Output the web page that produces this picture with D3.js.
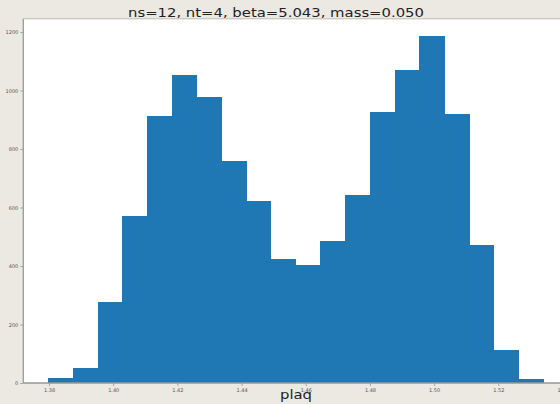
<!DOCTYPE html>
<html>
<head>
<meta charset="utf-8">
<script src="https://cdn.jsdelivr.net/npm/d3@7"></script>
<style>
  html, body { margin: 0; padding: 0; background: #ece9e3; }
  svg { display: block; }
</style>
</head>
<body>
<div id="chart"></div>
<script>
// histogram of plaq, 20 bins
var binLo = 1.3797;
var binHi = 1.5340;
var counts = [17, 52, 277, 571, 913, 1053, 978, 759, 622, 424, 403, 485, 643, 926, 1070, 1186, 920, 472, 113, 14];
var xTicks = [1.38, 1.40, 1.42, 1.44, 1.46, 1.48, 1.50, 1.52, 1.54];
var yTicks = [0, 200, 400, 600, 800, 1000, 1200];
var title = "ns=12, nt=4, beta=5.043, mass=0.050";
var xLabel = "plaq";

var W = 560, H = 404;
var m = { left: 23.3, right: 568, top: 18.8, bottom: 383 };

var nb = counts.length;
var step = (binHi - binLo) / nb;
var bins = counts.map(function(c, i) {
    return { x0: binLo + i * step, x1: binLo + (i + 1) * step, n: c };
});

var pad = (binHi - binLo) * 0.05;
var x = d3.scaleLinear().domain([binLo - pad, binHi + pad]).range([m.left, m.right]);
var y = d3.scaleLinear().domain([0, d3.max(counts) * 1.05]).range([m.bottom, m.top]);

var svg = d3.select("#chart").append("svg")
    .attr("width", W)
    .attr("height", H);

svg.append("rect")
    .attr("x", m.left).attr("y", m.top)
    .attr("width", m.right - m.left).attr("height", m.bottom - m.top)
    .style("fill", "#fff");

svg.selectAll(".bar")
    .data(bins)
    .enter().append("rect")
    .attr("class", "bar")
    .attr("x", function(d) { return x(d.x0); })
    .attr("width", function(d) { return x(d.x1) - x(d.x0) + 0.6; })
    .attr("y", function(d) { return y(d.n); })
    .attr("height", function(d) { return m.bottom - y(d.n); })
    .attr("shape-rendering", "crispEdges")
    .style("fill", "#1f77b4");

var xAxis = svg.append("g")
    .attr("transform", "translate(0," + m.bottom + ")")
    .call(d3.axisBottom(x).tickValues(xTicks).tickFormat(d3.format(".2f")).tickSizeOuter(0).tickSize(3).tickPadding(2));

var yAxis = svg.append("g")
    .attr("transform", "translate(" + m.left + ",0)")
    .call(d3.axisLeft(y).tickValues(yTicks).tickFormat(d3.format("d")).tickSizeOuter(0).tickSize(3).tickPadding(2));

[xAxis, yAxis].forEach(function(a) {
    a.select(".domain").remove();
    a.selectAll("line").style("stroke", "#777").style("stroke-width", 0.6);
    a.selectAll("text")
        .style("font-family", "DejaVu Sans")
        .style("font-size", "5px")
        .style("fill", "#555");
});

// spines
svg.append("line").attr("x1", m.left).attr("x2", m.left).attr("y1", m.top).attr("y2", m.bottom)
    .style("stroke", "#999").style("stroke-width", 1.3);
svg.append("line").attr("x1", m.left).attr("x2", m.right).attr("y1", m.bottom).attr("y2", m.bottom)
    .style("stroke", "#999").style("stroke-width", 1.3);
svg.append("line").attr("x1", m.left).attr("x2", m.right).attr("y1", m.top).attr("y2", m.top)
    .style("stroke", "#bbb").style("stroke-width", 1);

// the picture looks stretched sideways, so widen the labels a bit
svg.append("text")
    .attr("x", 276).attr("y", 17)
    .attr("text-anchor", "middle")
    .attr("textLength", 296)
    .attr("lengthAdjust", "spacingAndGlyphs")
    .style("font-family", "DejaVu Sans")
    .style("font-size", "12px")
    .style("fill", "#222")
    .text(title);

svg.append("text")
    .attr("x", 296).attr("y", 399)
    .attr("text-anchor", "middle")
    .attr("textLength", 32)
    .attr("lengthAdjust", "spacingAndGlyphs")
    .style("font-family", "DejaVu Sans")
    .style("font-size", "12px")
    .style("fill", "#222")
    .text(xLabel);
</script>
</body>
</html>
